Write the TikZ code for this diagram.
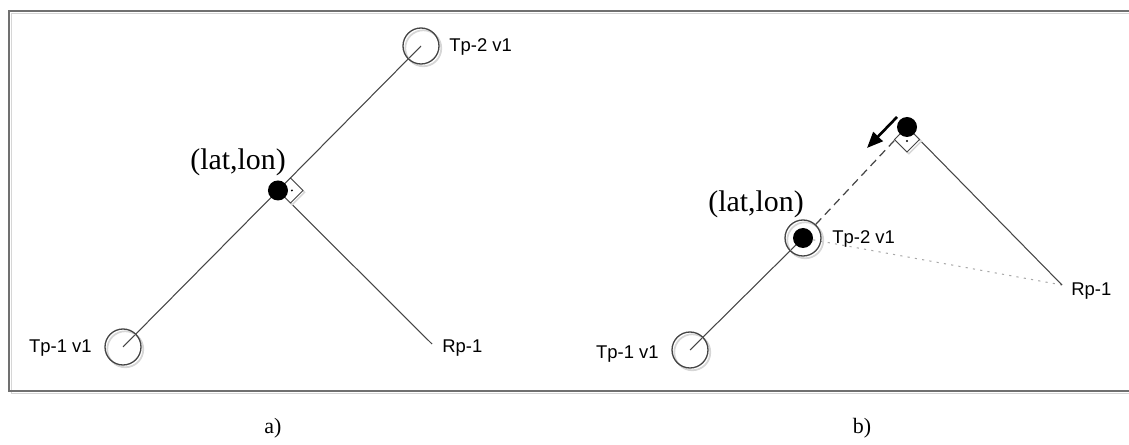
\documentclass[tikz,border=0pt]{standalone}
\usepackage{fontspec}
\setmainfont{Liberation Serif}
\setsansfont{Liberation Sans}
\usetikzlibrary{arrows.meta,backgrounds,calc}
\definecolor{lnline}{HTML}{454545}
\definecolor{lnshade}{HTML}{D6D6D6}
\definecolor{lnframe}{HTML}{707070}
\definecolor{lnhint}{HTML}{A8A8A8}
\tikzset{
  tpoint/.style={circle,draw=lnline,line width=.75pt,minimum size=.72cm,inner sep=0pt,
    preaction={draw=lnshade,line width=1pt,transform canvas={xshift=1.3pt,yshift=-1.3pt}}},
  fixpt/.style={circle,fill=black,minimum size=.4cm,inner sep=0pt},
  track/.style={draw=lnline,line width=.6pt},
  extend/.style={draw=lnline,line width=.7pt,dash pattern=on 4.6pt off 3pt},
  hint/.style={draw=lnhint,line width=.6pt,dash pattern=on 1.2pt off 3pt},
  rangle/.style={draw=lnline,line width=.5pt,fill=white,
    preaction={draw=lnshade,line width=.8pt,transform canvas={xshift=1pt,yshift=-1pt}}},
  movearrow/.style={-{Triangle[length=3.2mm,width=2.6mm]},draw=black,line width=1.5pt},
  ptlabel/.style={font=\sffamily\fontsize{10.5}{12}\selectfont,text=black,inner sep=0pt},
  coordlabel/.style={font=\fontsize{17}{20}\selectfont,inner sep=0pt},
  caption/.style={font=\fontsize{12.5}{14}\selectfont,inner sep=0pt},
  frame/.style={draw=lnframe,line width=1pt},
}
\begin{document}
\begin{tikzpicture}[x=0.02cm,y=-0.02cm]
  \useasboundingbox (0,0) rectangle (1129,445);
  \draw[lnshade,line width=1pt] (1129,13.5) -- (11.5,13.5) -- (11.5,393.5) -- (1129,393.5);
  \draw[frame] (1129,11) -- (9,11) -- (9,391) -- (1129,391);
  % a)
  \node[tpoint] (tpa1) at (123,347) {};
  \node[tpoint] (tpa2) at (421,46) {};
  \node[fixpt] (lla) at ($(tpa1)!.52!(tpa2)$) {};
  \coordinate (rpa) at (432,344);
  \node[ptlabel,anchor=east] (tpa1lbl) at (92,348) {Tp-1 v1};
  \node[ptlabel,anchor=west] (tpa2lbl) at (449,47) {Tp-2 v1};
  \node[ptlabel,anchor=west] (rpalbl) at (442,348) {Rp-1};
  \node[coordlabel] (llalbl) at (238,162) {(lat,lon)};
  \node[caption] (capa) at (273,428) {a)};
  % b)
  \node[tpoint] (tpb1) at (690,350) {};
  \node[tpoint] (tpb2) at (803,238) {};
  \node[fixpt] (llc) at (tpb2.center) {};
  \node[fixpt] (llb) at (907,127) {};
  \coordinate (rpb) at (1062,285);
  \coordinate (mvs) at (897,117);
  \coordinate (mve) at (867,148);
  \node[ptlabel,anchor=east] (tpb1lbl) at (659,354) {Tp-1 v1};
  \node[ptlabel,anchor=west] (tpb2lbl) at (832,239) {Tp-2 v1};
  \node[ptlabel,anchor=west] (rpblbl) at (1071,291) {Rp-1};
  \node[coordlabel] (llblbl) at (756,204) {(lat,lon)};
  \node[caption] (capb) at (862,428) {b)};
  \begin{scope}[on background layer]
    \draw[track] (tpa1.center) -- (lla.center) -- (tpa2.center);
    \draw[track] (lla.center) -- (rpa);
    \draw[rangle] (lla.center) -- ++(12.5,-12.5) -- ++(12.5,12.5) -- ++(-12.5,12.5) -- cycle;
    \fill (lla.center) ++(14,0) circle (.6pt);
    \draw[track] (tpb1.center) -- (llc.center);
    \draw[extend] (tpb2) -- (llb.center);
    \draw[hint] (llc) -- (rpb);
    \draw[track] (llb.center) -- (rpb);
    \draw[rangle] (llb.center) -- ++(-12.5,12.5) -- ++(12.5,12.5) -- ++(12.5,-12.5) -- cycle;
    \fill (llb.center) ++(0,14) circle (.6pt);
  \end{scope}
  \draw[movearrow] (mvs) -- (mve);
\end{tikzpicture}
\end{document}
